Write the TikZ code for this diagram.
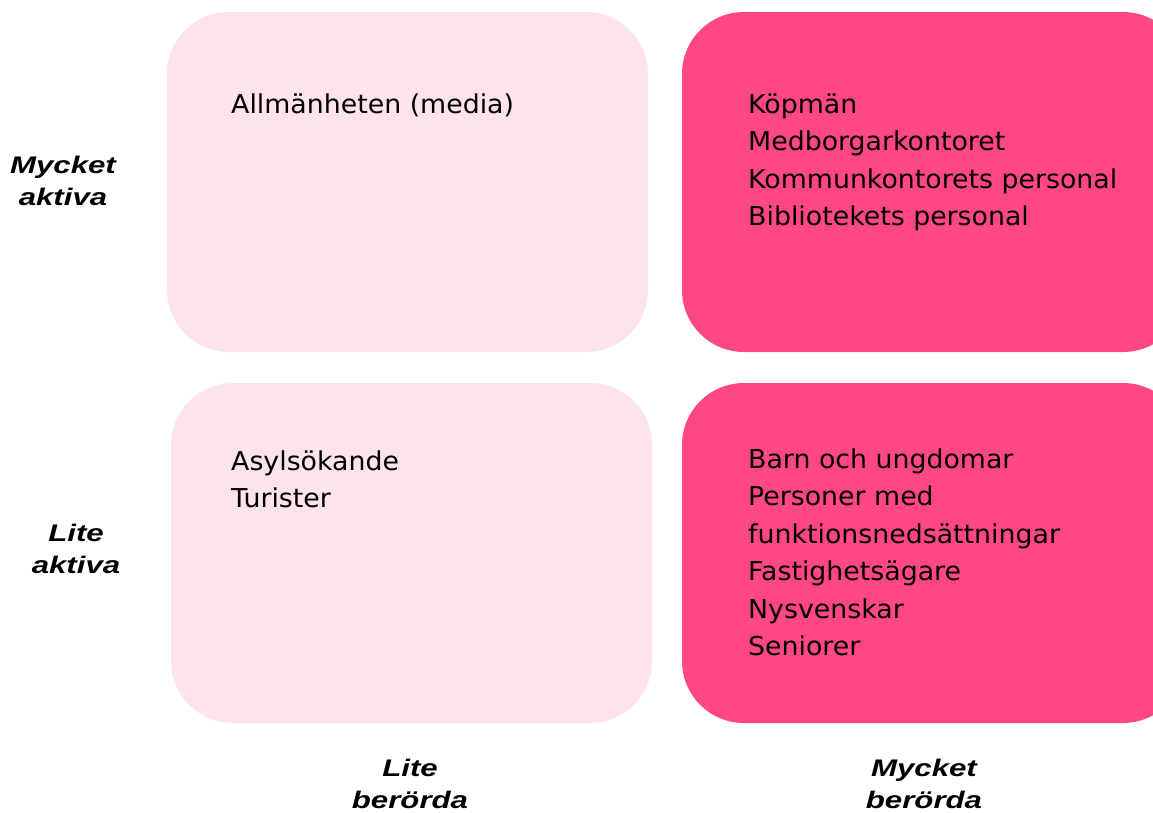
\documentclass[tikz,border=0pt]{standalone}
\usepackage{fontspec}
\setmainfont{DejaVu Sans}[FakeStretch=1.03]
\newfontfamily\labelfont{Liberation Sans}[FakeStretch=1.3]
\definecolor{lightpink}{HTML}{FDE3EC}
\definecolor{strongpink}{HTML}{FF4785}
\begin{document}
\begin{tikzpicture}[x=1pt,y=-1pt,
  quad/.style={rounded corners=62pt},
  itemtext/.style={anchor=base west,align=left,inner sep=0pt,font=\fontsize{26}{37.5}\selectfont},
  axislabel/.style={align=center,inner sep=0pt,font=\labelfont\bfseries\itshape\fontsize{24}{32}\selectfont}]
\useasboundingbox (0,0) rectangle (1153,812);
\begin{scope}
\clip (0,0) rectangle (1153,812);
\fill[lightpink,quad] (167,12) rectangle (648,352);
\fill[strongpink,quad] (682,12) rectangle (1185,352);
\fill[lightpink,quad] (171,383) rectangle (652,723);
\fill[strongpink,quad] (682,383) rectangle (1185,723);
\end{scope}
% anchor base = baseline of the last line
\node[itemtext] (tl) at (231,113) {Allmänheten (media)};
\node[itemtext] (tr) at (748,225.5) {Köpmän\\Medborgarkontoret\\Kommunkontorets personal\\Bibliotekets personal};
\node[itemtext] (bl) at (231,507.5) {Asylsökande\\Turister};
\node[itemtext] (br) at (748,655.5) {Barn och ungdomar\\Personer med\\funktionsnedsättningar\\Fastighetsägare\\Nysvenskar\\Seniorer};
\node[axislabel] (ma) at (63,181) {Mycket\\aktiva};
\node[axislabel] (la) at (76,549) {Lite\\aktiva};
\node[axislabel] (lb) at (410,784) {Lite\\berörda};
\node[axislabel] (mb) at (924,784) {Mycket\\berörda};
\end{tikzpicture}
\end{document}
